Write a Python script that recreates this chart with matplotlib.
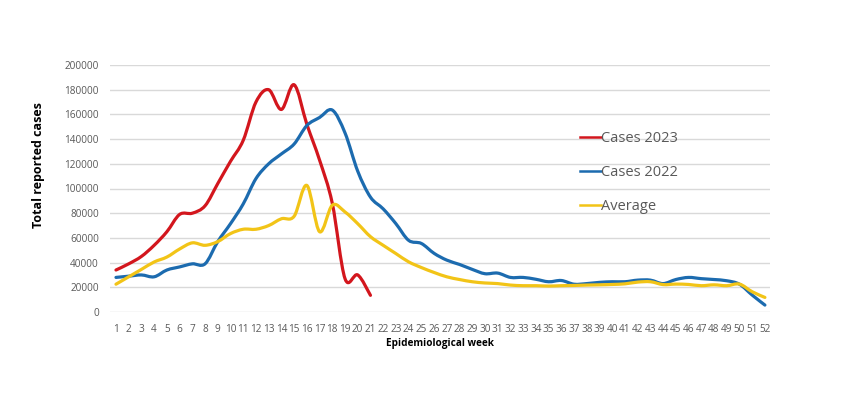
import matplotlib
matplotlib.use("Agg")
import matplotlib.pyplot as plt
from matplotlib.path import Path
from matplotlib.patches import PathPatch
from matplotlib.lines import Line2D
import numpy as np

weeks = list(range(1, 53))

cases_2023 = [34000, 39000, 45000, 54000, 65000, 79000, 80000, 86000, 104000, 122000,
              139000, 170000, 180000, 164000, 184000, 152000, 123000, 88000, 27000, 30000,
              13500]

cases_2022 = [28000, 29000, 30000, 28500, 34000, 36500, 39000, 39000, 57000, 71500,
              87500, 108000, 120000, 128000, 136000, 151000, 157500, 163500, 145000, 114000,
              93000, 83500, 71500, 58000, 55500, 47500, 42000, 38500, 34500, 31000,
              31500, 28000, 28000, 26500, 24500, 25500, 22500, 23000, 24000, 24500,
              24500, 25800, 25800, 23000, 26300, 28000, 27000, 26300, 25300, 22500,
              13700, 5600]

average = [22500, 28500, 34500, 40500, 44500, 51000, 56000, 54000, 57000, 63500,
           67000, 67000, 70000, 75500, 77500, 102500, 65000, 86500, 81000, 71500,
           61000, 54000, 47300, 40600, 36000, 32000, 28500, 26300, 24500, 23500,
           23000, 21800, 21300, 21300, 21000, 21300, 21500, 21800, 22000, 22300,
           22800, 24200, 24500, 22200, 22600, 22300, 21300, 22000, 21300, 22600,
           16400, 11800]

y_ticks = list(range(0, 200001, 20000))

series = [("Cases 2023", cases_2023, "#D3161D"),
          ("Cases 2022", cases_2022, "#1C6BAF"),
          ("Average", average, "#F2C417")]


def smooth_path(xs, ys, t=1.0 / 6.0):
    xs = np.asarray(xs, float)
    ys = np.asarray(ys, float)
    n = len(xs)
    verts = [(xs[0], ys[0])]
    codes = [Path.MOVETO]
    for i in range(n - 1):
        p0 = (xs[max(i - 1, 0)], ys[max(i - 1, 0)])
        p1 = (xs[i], ys[i])
        p2 = (xs[i + 1], ys[i + 1])
        p3 = (xs[min(i + 2, n - 1)], ys[min(i + 2, n - 1)])
        c1 = (p1[0] + (p2[0] - p0[0]) * t, p1[1] + (p2[1] - p0[1]) * t)
        c2 = (p2[0] - (p3[0] - p1[0]) * t, p2[1] - (p3[1] - p1[1]) * t)
        verts += [c1, c2, p2]
        codes += [Path.CURVE4] * 3
    return Path(verts, codes)


fig = plt.figure(figsize=(8.54, 4.0), dpi=100)
ax = fig.add_axes([110 / 854, 88 / 400, 660 / 854, 247 / 400])

for name, vals, col in series:
    xs = weeks[:len(vals)]
    patch = PathPatch(smooth_path(xs, vals), facecolor="none", edgecolor=col,
                      lw=2.3, capstyle="round", joinstyle="round", zorder=3)
    ax.add_patch(patch)

ax.set_xlim(0.53, 52.4)
ax.set_ylim(0, 200000)
ax.set_yticks(y_ticks)
ax.set_yticklabels([str(v) for v in y_ticks])
ax.set_xticks(weeks)
ax.set_xticklabels([str(w) for w in weeks])
ax.grid(axis="y", color="#D9D9D9", lw=1.0)
ax.set_axisbelow(True)
for s in ax.spines.values():
    s.set_visible(False)
ax.tick_params(axis="both", length=0, colors="#595959", labelsize=7.2)
ax.tick_params(axis="x", pad=9)
ax.tick_params(axis="y", pad=8)
for lab in ax.get_xticklabels() + ax.get_yticklabels():
    lab.set_family(["Open Sans", "DejaVu Sans"])

ax.set_ylabel("Total reported cases", fontsize=9, fontweight="bold",
              family=["Open Sans", "DejaVu Sans"])
ax.yaxis.set_label_coords((45 - 110) / 660, (312 - 165) / 247)
ax.set_xlabel("Epidemiological week", fontsize=7.2, fontweight="bold",
              family=["Open Sans", "DejaVu Sans"], labelpad=1)
ax.xaxis.set_label_coords((440 - 110) / 660, -0.105)

handles = [Line2D([], [], color=c, lw=1.8) for _, _, c in series]
leg = ax.legend(handles, [n for n, _, _ in series], loc="upper left",
                bbox_to_anchor=((567 - 110) / 660, (312 - 118) / 247),
                frameon=False, handlelength=1.4, handletextpad=0.05,
                labelspacing=1.3, prop={"family": ["Open Sans", "DejaVu Sans"], "size": 10.5})
for t in leg.get_texts():
    t.set_color("#595959")

fig.savefig("out.png", dpi=100, facecolor="white")
